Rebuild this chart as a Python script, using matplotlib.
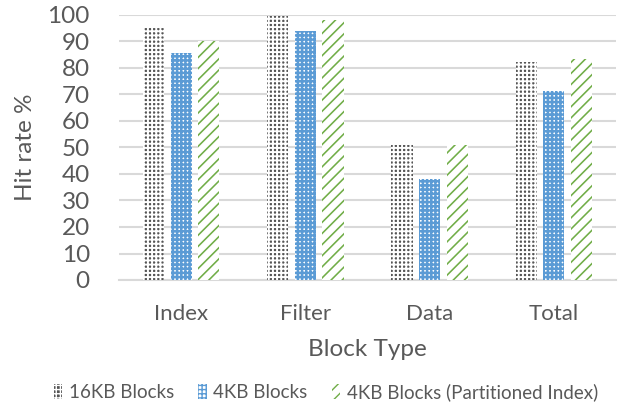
import matplotlib
matplotlib.use("Agg")
import matplotlib.pyplot as plt
import numpy as np

categories = ["Index", "Filter", "Data", "Total"]
series_names = ["16KB Blocks", "4KB Blocks", "4KB Blocks (Partitioned Index)"]
v16 = [95.6, 99.6, 50.9, 82.4]
v4 = [85.5, 94.1, 38.1, 71.4]
v4p = [90.2, 98.2, 50.9, 83.3]
yticks = [0, 10, 20, 30, 40, 50, 60, 70, 80, 90, 100]

plt.rcParams['font.family'] = ['Lato', 'DejaVu Sans']
txt = '#595959'

fig = plt.figure(figsize=(6.21, 4.04), dpi=100)
ax = fig.add_axes([119/621, 1-280/404, (616-119)/621, (280-15)/404])

x = np.arange(len(categories))
w = 0.17
off = 0.222

def styled_bar(xs, vals, lw, **kw):
    with plt.rc_context({'hatch.linewidth': lw}):
        bars = ax.bar(xs, vals, w, linewidth=0, zorder=3, **kw)
        for p in bars.patches:
            if hasattr(p, 'set_hatch_linewidth'):
                p.set_hatch_linewidth(lw)
    return bars

b1 = styled_bar(x - off, v16, 1.4, facecolor='#555555', edgecolor='white', hatch='++++', label=series_names[0])
b2 = styled_bar(x, v4, 1.8, facecolor='white', edgecolor='#5B9BD5', hatch='++++', label=series_names[1])
b3 = styled_bar(x + off, v4p, 1.15, facecolor='white', edgecolor='#70AD47', hatch='///', label=series_names[2])

ax.set_xlim(-0.5, len(categories) - 0.5)
ax.set_ylim(0, 100)
ax.set_yticks(yticks)
ax.yaxis.grid(True, color='#D9D9D9', linewidth=1.5, zorder=0)
ax.set_axisbelow(True)
for s in ['top', 'right', 'left']:
    ax.spines[s].set_visible(False)
ax.spines['bottom'].set_color('#D9D9D9')
ax.spines['bottom'].set_linewidth(1.5)
ax.tick_params(axis='y', length=0, pad=21, labelsize=17.5, labelcolor=txt)
ax.tick_params(axis='x', length=0, pad=17, labelsize=16, labelcolor=txt)
ax.set_xticks(x)
ax.set_xticklabels(categories)
ax.set_ylabel("Hit rate %", fontsize=17.5, color=txt, labelpad=8)
ax.set_xlabel("Block Type", fontsize=17.5, color=txt, labelpad=11)

leg = fig.legend(loc='center', bbox_to_anchor=(326/621, 1-392/404), ncol=3, frameon=False,
                 fontsize=13.5, handlelength=0.45, handleheight=0.9, handletextpad=0.35,
                 columnspacing=1.3)
for t in leg.get_texts():
    t.set_color(txt)

fig.savefig("out.png", dpi=100)
